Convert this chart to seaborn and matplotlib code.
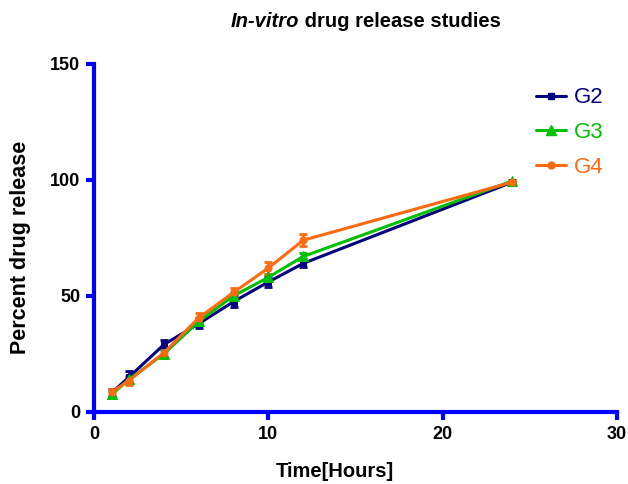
import matplotlib
matplotlib.use("Agg")
import matplotlib.pyplot as plt
import seaborn as sns
import pandas as pd
from matplotlib.lines import Line2D

time_h = [1, 2, 4, 6, 8, 10, 12, 24]
g2 = [8.2, 15.0, 29.0, 38.0, 47.5, 56.0, 64.0, 99.0]
g3 = [7.5, 14.0, 25.0, 39.0, 50.0, 58.0, 67.0, 99.5]
g4 = [8.5, 13.5, 25.5, 40.5, 51.5, 62.0, 74.0, 99.0]
g2_err = [1.5, 2.5, 2.0, 2.0, 2.5, 2.0, 1.5, 0.5]
g3_err = [1.0, 1.5, 1.5, 1.5, 1.5, 1.5, 1.5, 0.5]
g4_err = [1.5, 2.0, 2.0, 2.0, 2.0, 2.5, 2.5, 0.5]
groups = ["G2", "G3", "G4"]
colors = {"G2": "#000080", "G3": "#00c000", "G4": "#ff6a10"}
markers = {"G2": "s", "G3": "^", "G4": "o"}
msizes = {"G2": 5, "G3": 7, "G4": 5}

sns.set_style("white")
plt.rcParams["font.family"] = ["Liberation Sans", "DejaVu Sans"]
plt.rcParams["text.color"] = "black"
plt.rcParams["axes.labelcolor"] = "black"
plt.rcParams["xtick.color"] = "black"
plt.rcParams["ytick.color"] = "black"

fig = plt.figure(figsize=(6.28, 4.84), dpi=100)
ax = fig.add_axes([0.150, 0.149, 0.832, 0.719])

vals = {"G2": g2, "G3": g3, "G4": g4}
errs = {"G2": g2_err, "G3": g3_err, "G4": g4_err}
rows = []
for g in groups:
    for t, v in zip(time_h, vals[g]):
        rows.append({"Time": t, "Release": v, "Group": g})
df = pd.DataFrame(rows)

for g in groups:
    ax.errorbar(time_h, vals[g], yerr=errs[g], fmt="none", ecolor=colors[g],
                elinewidth=2, capsize=3, capthick=2, zorder=2)
    sns.lineplot(data=df[df.Group == g], x="Time", y="Release", color=colors[g],
                 marker=markers[g], markersize=msizes[g], markeredgecolor=colors[g],
                 linewidth=2.2, ax=ax, legend=False, zorder=3)

ax.set_xlim(0, 30)
ax.set_ylim(0, 150)
ax.set_xticks([0, 10, 20, 30])
ax.set_yticks([0, 50, 100, 150])
for s in ["top", "right"]:
    ax.spines[s].set_visible(False)
for s in ["left", "bottom"]:
    ax.spines[s].set_color("#0000ff")
    ax.spines[s].set_linewidth(3)
ax.tick_params(axis="both", which="both", direction="out", length=6, width=3,
               color="#0000ff", labelcolor="black", labelsize=13, pad=4,
               bottom=True, left=True)
for lab in ax.get_xticklabels() + ax.get_yticklabels():
    lab.set_fontweight("bold")
ax.set_xlabel("Time[Hours]", fontsize=14.5, fontweight="bold")
ax.set_ylabel("Percent drug release", fontsize=15.5, fontweight="bold")
W = fig.get_figwidth() * fig.dpi
H = fig.get_figheight() * fig.dpi
ax.xaxis.set_label_coords(335.0 / W, 1 - 462.0 / H, transform=fig.transFigure)
ax.yaxis.set_label_coords(31.5 / W, 1 - 247.0 / H, transform=fig.transFigure)

handles = [Line2D([0], [0], color=colors[g], marker=markers[g], markersize=msizes[g],
                  linewidth=2.2) for g in groups]
leg = ax.legend(handles, groups, loc="upper right", bbox_to_anchor=(1.013, 0.99),
                frameon=False, fontsize=16, handlelength=1.35, handletextpad=0.35,
                labelspacing=0.62)
for txt, g in zip(leg.get_texts(), groups):
    txt.set_color(colors[g])

# Title with italic part
fig.canvas.draw()
r = fig.canvas.get_renderer()
t1 = fig.text(0, 0.944, "In-vitro", fontsize=14.5, fontweight="bold", fontstyle="italic",
              ha="left", va="baseline", color="black")
t2 = fig.text(0, 0.944, " drug release studies", fontsize=14.5, fontweight="bold",
              ha="left", va="baseline", color="black")
w1 = t1.get_window_extent(r).width
w2 = t2.get_window_extent(r).width
cx = 366.0
x0 = cx - (w1 + w2) / 2
t1.set_x(x0 / W)
t2.set_x((x0 + w1) / W)

fig.savefig("out.png", dpi=100)
